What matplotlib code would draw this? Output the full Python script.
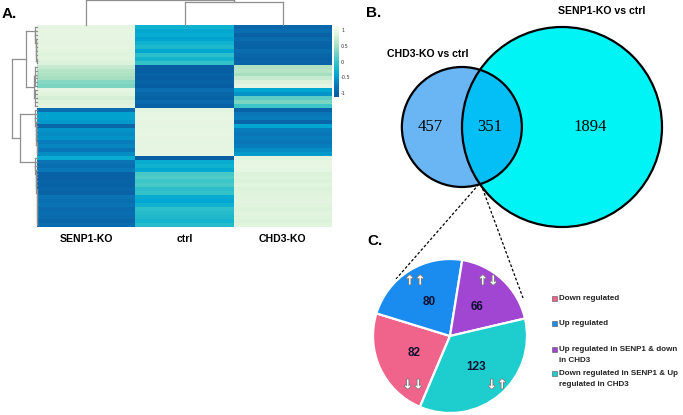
import numpy as np
import matplotlib
matplotlib.use('Agg')
import matplotlib.pyplot as plt
from matplotlib.colors import LinearSegmentedColormap, Normalize
from matplotlib.patches import Circle, Rectangle
import matplotlib.patheffects as pe

# ------------------------------------------------------------------ data
samples = ['SENP1-KO', 'ctrl', 'CHD3-KO']

# heatmap rows (row-scaled expression), read top to bottom
senp1 = [0.95, 0.97, 0.93, 0.95, 0.92, 0.95, 0.90, 0.88, 0.90, 0.85,
         0.70, 0.60, 0.55, 0.50, 0.35, 0.30,
         0.95, 0.90, 0.80, 0.85, 0.90,
         -0.85, -0.45, -0.45, -0.50, -0.95, -0.55, -0.60, -0.55, -0.70, -0.65, -0.75, -0.60,
         -0.35,
         -0.80, -0.85, -0.75, -1.00, -1.02, -0.98, -1.00, -0.95, -1.00,
         -0.80, -0.85, -0.80, -0.90, -0.85, -0.90, -0.95, -0.88]
ctrl = [-0.30, -0.40, -0.35, -0.45, -0.30, -0.20, -0.40, -0.10, -0.25, -0.05,
        -1.05, -1.05, -1.00, -1.05, -1.00, -1.05,
        -0.85, -0.95, -1.00, -0.90, -1.00,
        0.90, 0.95, 0.97, 0.95, 0.93, 0.95, 0.97, 0.95, 0.93, 0.95, 0.95, 0.97,
        -1.05,
        -0.35, -0.30, -0.40, 0.05, 0.10, 0.00, 0.05, -0.10, -0.05,
        -0.35, -0.40, -0.30, -0.10, -0.15, -0.20, -0.25, -0.15]
chd3 = [-0.95, -0.85, -1.00, -0.90, -0.98, -1.00, -0.88, -0.95, -1.00, -0.98,
        0.55, 0.60, 0.50, 0.70, 0.85, 0.95,
        -0.40, -0.55, 0.15, 0.30, 0.00,
        -1.00, -0.75, -0.70, -0.95, -0.40, -0.70, -0.75, -0.70, -0.75, -0.70, -0.60, -0.50,
        0.90,
        0.95, 0.97, 0.93, 0.85, 0.88, 0.85, 0.90, 0.85, 0.88,
        0.90, 0.92, 0.88, 0.85, 0.90, 0.88, 0.85, 0.90]

cbar_ticks = [1, 0.5, 0, -0.5, -1]
cbar_labels = ['1', '0.5', '0', '-0.5', '-1']

# row dendrogram: contiguous leaf blocks and the links between them
block_sizes = [10, 6, 5, 12, 18]
block_kind = ['chain', 'comb', 'comb', 'chain', 'chain']
block_height = [0.10, 0.07, 0.07, 0.10, 0.10]
row_links = {
    'A2': (('b1', 'b2'), 0.14),
    'A': (('b0', 'A2'), 0.44),
    'B': (('b3', 'b4'), 0.68),
    'root': (('A', 'B'), 1.00),
}
# column dendrogram
col_tree = ([0, ([1, 2], 0.92)], 1.00)

# Venn counts
venn_labels = ['CHD3-KO vs ctrl', 'SENP1-KO vs ctrl']
only_chd3 = 457
shared = 351
only_senp1 = 1894

# pie of the shared genes
pie_labels = ['Down regulated', 'Up regulated',
              'Up regulated in SENP1 & down\nin CHD3',
              'Down regulated in SENP1 & Up\nregulated in CHD3']
pie_values = [82, 80, 66, 123]
pie_arrows = ['\u2193\u2193', '\u2191\u2191', '\u2191\u2193', '\u2193\u2191']
pie_colors = ['#f0648c', '#1a8cf0', '#a046d2', '#1ecdcd']

# ------------------------------------------------------------------ style
W, H = 683, 415
sans = ['Liberation Sans', 'DejaVu Sans']
serif = ['Liberation Serif', 'DejaVu Serif']
dcol = '#8f8f8f'

fig = plt.figure(figsize=(W / 100, H / 100), dpi=100)


def frac(x0, y0, x1, y1):
    """pixel box (image coords) -> figure fraction rect"""
    return [x0 / W, 1 - y1 / H, (x1 - x0) / W, (y1 - y0) / H]


# ------------------------------------------------------------------ heatmap
data = np.column_stack([senp1, ctrl, chd3])
n = data.shape[0]
cmap = LinearSegmentedColormap.from_list('hm', [
    (0.00, '#08589e'), (0.17, '#0a78b8'), (0.32, '#00a8d2'),
    (0.50, '#3cc6c8'), (0.72, '#a6dfbf'), (0.88, '#def3dc'), (1.00, '#f4fbee')])
norm = Normalize(vmin=-1.13, vmax=1.13)

axh = fig.add_axes(frac(37, 25, 332, 227))
im = axh.imshow(data, cmap=cmap, norm=norm, aspect='auto', interpolation='nearest')
axh.set_xticks(range(3))
axh.set_xticklabels(samples, family=sans, fontweight='bold', fontsize=7.6)
axh.set_yticks([])
axh.tick_params(axis='x', length=0, pad=5)
for s in axh.spines.values():
    s.set_visible(False)
axh.set_ylim(n - 0.5, -0.5)

cax = fig.add_axes(frac(334, 26, 339, 97))
cb = fig.colorbar(im, cax=cax, ticks=cbar_ticks)
cb.set_ticklabels(cbar_labels)
cb.outline.set_visible(False)
cax.tick_params(length=0, labelsize=3.5, pad=1.5, labelcolor='#333333')


# ------------------------------------------------------------------ dendrograms
def build(name, starts):
    if name in row_links:
        kids, h = row_links[name]
        return ([build(k, starts) for k in kids], h)
    b = int(name[1:])
    rows = list(range(starts[b], starts[b] + block_sizes[b]))
    hb = block_height[b]
    if block_kind[b] == 'comb':
        return (rows, hb)

    def chain(rs, h):
        if len(rs) == 1:
            return rs[0]
        return ([rs[0], chain(rs[1:], h * 0.8)], h)
    return chain(rows, hb)


def draw(ax, node, vertical):
    if isinstance(node, int):
        return node, 0.0
    kids, h = node
    res = [draw(ax, k, vertical) for k in kids]
    ps = [r[0] for r in res]
    for p, ch in res:
        if vertical:
            ax.plot([p, p], [ch, h], color=dcol, lw=0.9, clip_on=False)
        else:
            ax.plot([ch, h], [p, p], color=dcol, lw=0.9, clip_on=False)
    if vertical:
        ax.plot([min(ps), max(ps)], [h, h], color=dcol, lw=0.9, clip_on=False)
    else:
        ax.plot([h, h], [min(ps), max(ps)], color=dcol, lw=0.9, clip_on=False)
    return (min(ps) + max(ps)) / 2, h


starts = list(np.cumsum([0] + block_sizes[:-1]))
row_tree = build('root', starts)

axl = fig.add_axes(frac(0, 25, 37, 227))
draw(axl, row_tree, vertical=False)
axl.set_xlim(1.48, 0)
axl.set_ylim(n - 0.5, -0.5)
axl.axis('off')

axt = fig.add_axes(frac(37, 0, 332, 25))
draw(axt, col_tree, vertical=True)
axt.set_xlim(-0.5, 2.5)
axt.set_ylim(0, 1.02)
axt.axis('off')

# ------------------------------------------------------------------ overlay (pixel coords, y up)
ov = fig.add_axes([0, 0, 1, 1])


def Y(y):
    return H - y


# Venn (area proportional)
set_chd3 = only_chd3 + shared
set_senp1 = only_senp1 + shared
R_BIG = 100.0
k = R_BIG / np.sqrt(set_senp1)
r1 = k * np.sqrt(set_chd3)
r2 = k * np.sqrt(set_senp1)
target = np.pi * k ** 2 * shared


def lens(d):
    a1 = r1 ** 2 * np.arccos((d * d + r1 * r1 - r2 * r2) / (2 * d * r1))
    a2 = r2 ** 2 * np.arccos((d * d + r2 * r2 - r1 * r1) / (2 * d * r2))
    t = 0.5 * np.sqrt((-d + r1 + r2) * (d + r1 - r2) * (d - r1 + r2) * (d + r1 + r2))
    return a1 + a2 - t


lo, hi = abs(r2 - r1) + 1e-6, r1 + r2 - 1e-6
for _ in range(80):
    mid = (lo + hi) / 2
    if lens(mid) > target:
        lo = mid
    else:
        hi = mid
d = (lo + hi) / 2

cx2, cy = 562, Y(127)
cx1 = cx2 - d
ov.add_patch(Circle((cx2, cy), r2, facecolor='#00f4f6', edgecolor='none', zorder=1))
ov.add_patch(Circle((cx1, cy), r1, facecolor='#6ab6f4', edgecolor='none', zorder=2))
clipc = Circle((cx1, cy), r1, transform=ov.transData)
inter = Circle((cx2, cy), r2, facecolor='#04bef6', edgecolor='none', zorder=3)
ov.add_patch(inter)
inter.set_clip_path(clipc)
ov.add_patch(Circle((cx1, cy), r1, fill=False, edgecolor='black', lw=1.6, zorder=4))
ov.add_patch(Circle((cx2, cy), r2, fill=False, edgecolor='black', lw=1.6, zorder=4))

ov.text(430, cy, str(only_chd3), family=serif, fontsize=12, ha='center', va='center', zorder=5)
ov.text(490, cy, str(shared), family=serif, fontsize=12, ha='center', va='center', zorder=5)
ov.text(590, cy, str(only_senp1), family=serif, fontsize=12, ha='center', va='center', zorder=5)
ov.text(428, Y(54), venn_labels[0], family=sans, fontweight='bold', fontsize=7.6,
        ha='center', va='center')
ov.text(602, Y(11), venn_labels[1], family=sans, fontweight='bold', fontsize=7.6,
        ha='center', va='center')

# dashed connectors from the lower crossing of the circles to the pie
a = (d * d + r1 * r1 - r2 * r2) / (2 * d)
hh = np.sqrt(r1 * r1 - a * a)
px, py = cx1 + a, cy - hh
ov.plot([px - 1, 396], [py, Y(279)], color='black', lw=0.9, ls=(0, (2.2, 1.6)), zorder=6)
ov.plot([px + 1, 523], [py, Y(298)], color='black', lw=0.9, ls=(0, (2.2, 1.6)), zorder=6)

# pie
total = sum(pie_values)
pcx, pcy, pr = 450, Y(336), 77
wedges, _, autot = ov.pie(
    pie_values, colors=pie_colors, startangle=247, counterclock=False,
    center=(pcx, pcy), radius=pr, pctdistance=0.52,
    autopct=lambda p: f'{round(p * total / 100)}',
    wedgeprops=dict(edgecolor='white', linewidth=1.6),
    textprops=dict(family=sans, fontweight='bold', fontsize=8.5, color='#101030'))
for w in wedges:
    w.set_zorder(7)
for t in autot:
    t.set_zorder(8)

arrow_pos = [(413, 385), (415, 281), (488, 281), (497, 385)]
for s, (ax_, ay_) in zip(pie_arrows, arrow_pos):
    ov.text(ax_, Y(ay_), s, fontsize=9, fontweight='bold', color='white', ha='center',
            va='center', zorder=9,
            path_effects=[pe.withStroke(linewidth=1.2, foreground='#7a7a7a')])

# legend
leg_y = [298, 323, 349, 373]
leg_line_gap = 11
for lab, col, ly in zip(pie_labels, pie_colors, leg_y):
    ov.add_patch(Rectangle((552, Y(ly) - 2.5), 5, 5, facecolor=col, edgecolor='#555555',
                           lw=0.4, zorder=8))
    for i, line in enumerate(lab.split('\n')):
        ov.text(559, Y(ly + i * leg_line_gap), line, family=sans, fontweight='bold',
                fontsize=5.8, ha='left', va='center', color='#222222')

# panel letters
ov.text(2, Y(14), 'A.', family=sans, fontweight='bold', fontsize=11, va='center')
ov.text(366, Y(13), 'B.', family=sans, fontweight='bold', fontsize=11, va='center')
ov.text(367, Y(241), 'C.', family=sans, fontweight='bold', fontsize=11, va='center')

ov.set_xlim(0, W)
ov.set_ylim(0, H)
ov.set_aspect('auto')
ov.axis('off')

fig.savefig('out.png', dpi=100)
